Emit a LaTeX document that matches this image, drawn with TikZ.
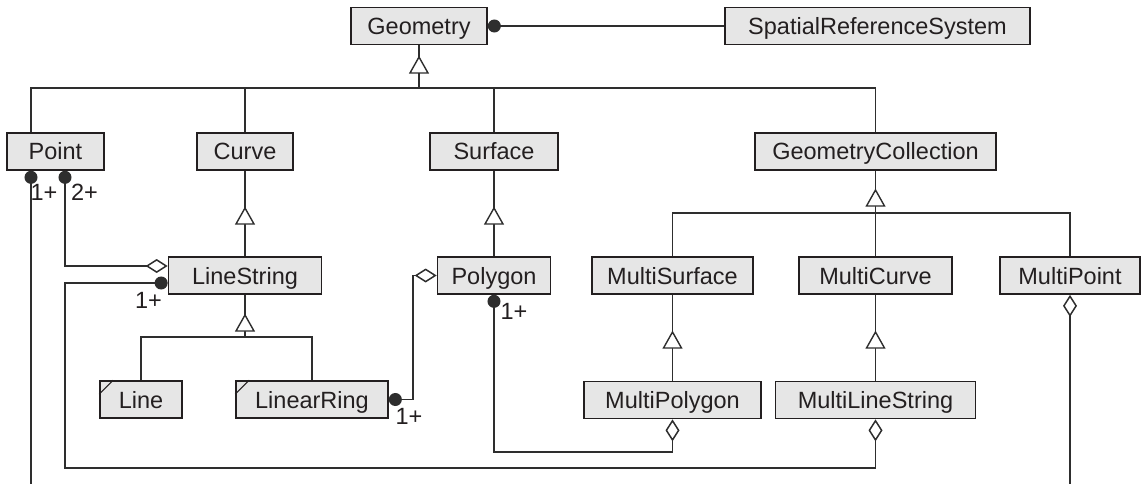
\documentclass[tikz,border=0pt]{standalone}
\usepackage{fontspec}
\setmainfont{Liberation Sans}
\usetikzlibrary{arrows.meta}
\definecolor{ink}{HTML}{231F20}
\definecolor{boxfill}{HTML}{E6E6E6}
\definecolor{wirec}{HTML}{2E2E2E}
\begin{document}
\begin{tikzpicture}[x=1pt,y=-1pt,
  cls/.style={draw=ink, fill=boxfill, line width=1.7pt, text=ink,
    font=\fontsize{23.5}{28}\selectfont, minimum height=37pt,
    text height=17pt, text depth=0pt, inner sep=0pt, anchor=center},
  wire/.style={draw=wirec, line width=1.5pt},
  gentri/.style={draw=wirec, fill=white, line width=1.4pt, line join=miter},
  mult/.style={text=ink, font=\fontsize{23.5}{28}\selectfont,
    text height=17pt, text depth=0pt, inner sep=0pt, anchor=center},
  dotdia/.style={wire, {Circle[length=13pt]}-{Diamond[open,length=22pt,width=14pt]}},
  dotline/.style={wire, {Circle[length=13pt]}-},
  dialine/.style={wire, {Diamond[open,length=22pt,width=14pt]}-},
  corner/.style={draw=ink, line width=1.1pt}]
\useasboundingbox (0,0) rectangle (1141,484);

% classes
\node[cls, minimum width=136pt] (geom) at (419,26) {Geometry};
\node[cls, minimum width=305pt] (srs) at (877.5,26) {SpatialReferenceSystem};
\node[cls, minimum width=97pt] (point) at (55.5,151.5) {Point};
\node[cls, minimum width=96pt] (curve) at (245,151.5) {Curve};
\node[cls, minimum width=128pt] (surface) at (494,151.5) {Surface};
\node[cls, minimum width=241pt] (gcoll) at (875.5,151.5) {GeometryCollection};
\node[cls, minimum width=153pt] (ls) at (245,275.5) {LineString};
\node[cls, minimum width=113pt] (polygon) at (494,275.5) {Polygon};
\node[cls, minimum width=161pt] (msurf) at (672.5,275.5) {MultiSurface};
\node[cls, minimum width=153pt] (mcurve) at (875.5,275.5) {MultiCurve};
\node[cls, minimum width=140pt] (mpoint) at (1070,275.5) {MultiPoint};
\node[cls, minimum width=82pt] (line) at (141,399.5) {Line};
\node[cls, minimum width=152pt] (lring) at (312,399.5) {LinearRing};
\node[cls, minimum width=177pt] (mpoly) at (672.5,400) {MultiPolygon};
\node[cls, minimum width=200pt] (mls) at (875.5,400) {MultiLineString};

% corner marks
\draw[corner] ([yshift=-14pt]line.north west) -- ([xshift=14pt]line.north west);
\draw[corner] ([yshift=-14pt]lring.north west) -- ([xshift=14pt]lring.north west);

% Geometry -- SRS
\draw[dotline] (geom.east) -- (srs.west);

% generalization: Geometry
\coordinate (bus1) at (0,88);
\draw[wire] (geom.south) -- (geom.south |- bus1);
\draw[wire] ([xshift=-24.5pt]point.north) |- (gcoll.north |- bus1) -- (gcoll.north);
\draw[wire] (curve.north) -- (curve.north |- bus1);
\draw[wire] (surface.north) -- (surface.north |- bus1);
\draw[gentri] (geom.south |- 0,57) -- ++(-9,16) -- ++(18,0) -- cycle;

% Curve -> LineString
\draw[wire] (curve.south) -- (ls.north);
\draw[gentri] (curve.south |- 0,208) -- ++(-9,16) -- ++(18,0) -- cycle;

% Surface -> Polygon
\draw[wire] (surface.south) -- (polygon.north);
\draw[gentri] (surface.south |- 0,208) -- ++(-9,16) -- ++(18,0) -- cycle;

% GeometryCollection
\coordinate (bus2) at (0,213);
\draw[wire] (gcoll.south) -- (mcurve.north);
\draw[wire] (msurf.north) |- (mpoint.north |- bus2) -- (mpoint.north);
\draw[gentri] (gcoll.south |- 0,190) -- ++(-9,16) -- ++(18,0) -- cycle;

% MultiSurface -> MultiPolygon, MultiCurve -> MultiLineString
\draw[wire] (msurf.south) -- (mpoly.north);
\draw[gentri] (msurf.south |- 0,332) -- ++(-9,16) -- ++(18,0) -- cycle;
\draw[wire] (mcurve.south) -- (mls.north);
\draw[gentri] (mcurve.south |- 0,332) -- ++(-9,16) -- ++(18,0) -- cycle;

% LineString -> Line, LinearRing
\coordinate (bus3) at (0,337);
\draw[wire] (ls.south) -- (ls.south |- bus3);
\draw[wire] (line.north) |- (lring.north |- bus3) -- (lring.north);
\draw[gentri] (ls.south |- 0,315) -- ++(-9,16) -- ++(18,0) -- cycle;

% associations
\coordinate (pbot) at (31,484);
\draw[dotline] ([xshift=-24.5pt]point.south) -- (pbot);
\draw[dotdia] ([xshift=9.5pt]point.south) |- ([yshift=9.5pt]ls.west);
\coordinate (lsturn) at (65,468);
\draw[dotdia] ([yshift=-7.5pt]ls.west) -| (lsturn) -| (mls.south);
\draw[dotdia] (lring.east) -- (lring.east -| 413,0) |- (polygon.west);
\draw[dotdia] (polygon.south) |- (mpoly.south |- 0,452) -- (mpoly.south);
\draw[dialine] (mpoint.south) -- (mpoint.south |- 0,484);

% multiplicities
\node[mult] (m1) at (44,192) {1+};
\node[mult] (m2) at (84.5,192) {2+};
\node[mult] (m3) at (148.5,300) {1+};
\node[mult] (m4) at (409,416) {1+};
\node[mult] (m5) at (514,311) {1+};
\end{tikzpicture}
\end{document}
